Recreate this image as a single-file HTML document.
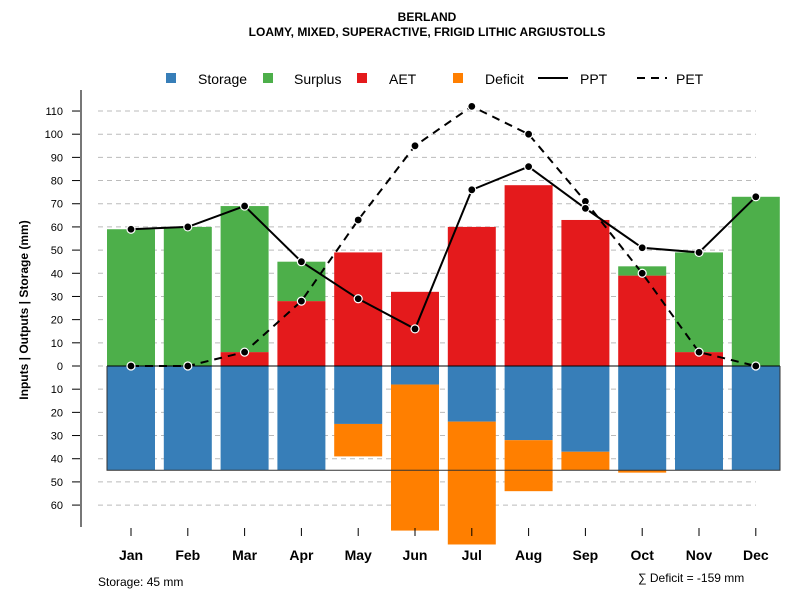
<!DOCTYPE html>
<html><head><meta charset="utf-8"><style>
body{margin:0;background:#fff}
svg text{font-family:"Liberation Sans",sans-serif}
</style></head><body>
<svg id="c" width="800" height="600" xmlns="http://www.w3.org/2000/svg">
<text x="427" y="21" text-anchor="middle" font-size="12" font-weight="bold">BERLAND</text>
<text x="427" y="36" text-anchor="middle" font-size="12" font-weight="bold">LOAMY, MIXED, SUPERACTIVE, FRIGID LITHIC ARGIUSTOLLS</text>
<g>
<rect x="166" y="73" width="10" height="10" fill="#377eb8"/>
<text x="198" y="84" font-size="14">Storage</text>
<rect x="263" y="73" width="10" height="10" fill="#4daf4a"/>
<text x="294" y="84" font-size="14">Surplus</text>
<rect x="357" y="73" width="10" height="10" fill="#e41a1c"/>
<text x="389" y="84" font-size="14">AET</text>
<rect x="453" y="73" width="10" height="10" fill="#ff7f00"/>
<text x="485" y="84" font-size="14">Deficit</text>
<line x1="538" y1="78" x2="568" y2="78" stroke="#000" stroke-width="2"/>
<text x="580" y="84" font-size="14">PPT</text>
<line x1="637" y1="78" x2="667" y2="78" stroke="#000" stroke-width="2" stroke-dasharray="8,6"/>
<text x="676" y="84" font-size="14">PET</text>
</g>
<text transform="translate(28,310) rotate(-90)" text-anchor="middle" font-size="12" font-weight="bold">Inputs | Outputs | Storage    (mm)</text>
<text x="98" y="586" font-size="12">Storage: 45 mm</text>
<text x="638" y="582" font-size="12">∑ Deficit = -159 mm</text>
<g id="plot"></g>
</svg>
<script>
const months=["Jan","Feb","Mar","Apr","May","Jun","Jul","Aug","Sep","Oct","Nov","Dec"];
const ppt=[59,60,69,45,29,16,76,86,68,51,49,73];
const pet=[0,0,6,28,63,95,112,100,71,40,6,0];
const aet=[0,0,6,28,49,32,60,78,63,39,6,0];
const surplus=[59,60,63,17,0,0,0,0,0,4,43,73];
const storage=[45,45,45,45,25,8,24,32,37,45,45,45];
const deficit=[0,0,0,0,14,63,53,22,8,1,0,0];
const yTicks=[110,100,90,80,70,60,50,40,30,20,10,0,-10,-20,-30,-40,-50,-60];
const capacity=45;
const NS="http://www.w3.org/2000/svg";
const g=document.getElementById('plot');
const y=v=>366-v*2.318;
const xc=i=>131+i*56.8;
const bw=48;
function mk(t,a,p){const e=document.createElementNS(NS,t);for(const k in a)e.setAttribute(k,a[k]);(p||g).appendChild(e);return e;}
yTicks.forEach(v=>{
 const l=mk('line',{x1:98,x2:756,y1:y(v),y2:y(v),stroke:'#bbb','stroke-dasharray':'5,4'});
 
 
 const t=mk('line',{x1:72,x2:81,y1:y(v),y2:y(v),stroke:'#000'});
 
 
 const tx=mk('text',{x:63,y:y(v)+4,'text-anchor':'end','font-size':11});
 tx.textContent=Math.abs(v);
 
 
});
const ax=mk('line',{x1:81,x2:81,y1:90,y2:527,stroke:'#777','stroke-width':2});


months.forEach((m,i)=>{
 const x0=xc(i)-bw/2;
 function bar(v0,v1,col,name){ if(v1===v0)return; const top=Math.min(y(v0),y(v1));
  const r=mk('rect',{x:x0,y:top,width:bw,height:Math.abs(y(v1)-y(v0)),fill:col});
  
  }
 bar(0,-storage[i],'#377eb8','bar-storage-'+m.toLowerCase());
 bar(-storage[i],-storage[i]-deficit[i],'#ff7f00','bar-deficit-'+m.toLowerCase());
 bar(0,aet[i],'#e41a1c','bar-aet-'+m.toLowerCase());
 bar(aet[i],aet[i]+surplus[i],'#4daf4a','bar-surplus-'+m.toLowerCase());
 const tk=mk('line',{x1:xc(i),x2:xc(i),y1:528,y2:536,stroke:'#000'});
 
 
 const tx=mk('text',{x:xc(i),y:560,'text-anchor':'middle','font-size':14,'font-weight':'bold'});
 tx.textContent=m;
 
 
});
const z=mk('line',{x1:107,x2:780,y1:y(0),y2:y(0),stroke:'#000'});


const cl=mk('polyline',{points:`107,${y(0)} 107,${y(-capacity)} 780,${y(-capacity)} 780,${y(0)}`,fill:'none',stroke:'#333'});


function series(arr,dash,name){
 const pl=mk('polyline',{points:arr.map((v,i)=>xc(i)+','+y(v)).join(' '),fill:'none',stroke:'#000','stroke-width':2,'stroke-dasharray':dash});
 
 
 arr.forEach((v,i)=>{const c=mk('circle',{cx:xc(i),cy:y(v),r:4,fill:'#000',stroke:'#fff','stroke-width':1.2});
  
  });
}
series(pet,'8,6','pet');
series(ppt,'none','ppt');
</script>
</body></html>
